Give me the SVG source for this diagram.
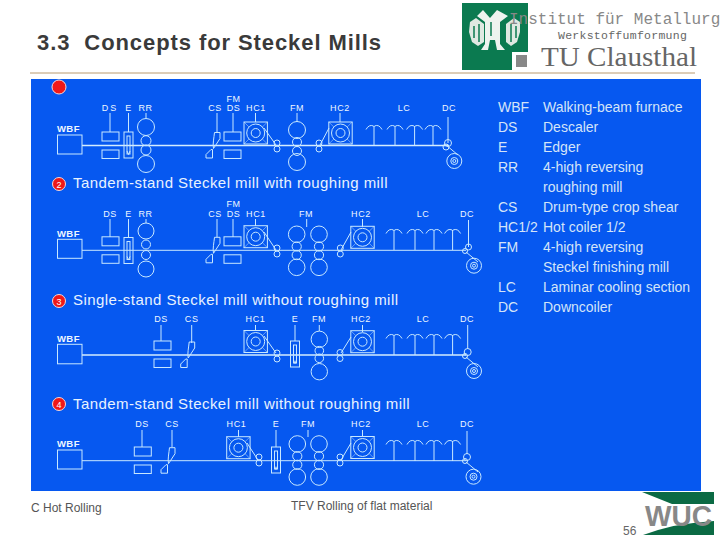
<svg xmlns="http://www.w3.org/2000/svg" width="720" height="540" viewBox="0 0 720 540">
<style>
text{font-family:"Liberation Sans",Arial,sans-serif}
.l{font-size:9px;fill:#eef7ff;text-anchor:middle;letter-spacing:.6px}
.w{font-size:9.500px;fill:#eef7ff;font-weight:bold;letter-spacing:.4px}
.h{font-size:15px;fill:#e8f2ff;letter-spacing:.45px}
.k{font-size:14px;fill:#d4e4f8}
.n{font-size:9px;fill:#fff;text-anchor:middle}
.s{fill:none;stroke:#c8e8ff;stroke-width:1}
.t{fill:none;stroke:#d4ecff;stroke-width:1.400}
.r{fill:#f01818;stroke:#f4d8d8;stroke-width:1}
</style>
<defs>
<g id="hc" class="s"><rect x="-11.700" y="-11" width="23.400" height="22"/><circle r="9"/><circle r="4.500"/><path opacity=".5" d="M-11.700-11l5 5M11.700-11l-5 5M-11.700 11l5-5M11.700 11l-5-5"/></g>
<g id="ds" class="s"><rect x="0" y="-13.500" width="17" height="9"/><rect x="0" y="4.500" width="17" height="8.500"/></g>
<g id="e" class="s"><rect x="-4.500" y="-13" width="9" height="26"/><rect x="-1.500" y="-9" width="3" height="18"/><path d="M-1.500 6L0 9.500L1.500 6"/></g>
<g id="cs" class="s"><path d="M-2.500-13H3V-7L-3.500 3C-4.500-1-3-8-2.500-13Z"/><path d="M-4.500 4V12.500H-11V9L-6 4Z"/></g>
<g id="p" class="s"><circle cy="-3" r="3"/><circle cy="3" r="3"/></g>
<g id="u" class="s"><path d="M-8 3.500Q-5-2-.5 0L0 .5L.5 0Q5-2 8 3.500"/></g>
<g id="co" class="s"><circle r="7.500"/><circle r="3.500"/><circle r="1.500"/></g>
<g id="m" class="s"><circle cy="-16.500" r="8.300"/><circle cy="-4.300" r="4.600"/><circle cy="4.300" r="4.600"/><circle cy="16.500" r="8.300"/></g>
</defs>
<rect width="720" height="540" fill="#fff"/>
<rect x="31" y="79" width="670" height="412" fill="#0658f0"/>
<path d="M30 73H695" stroke="#b89a70" stroke-width="1"/>
<text x="37" y="50" font-size="22" font-weight="bold" fill="#3a3a3a" textLength="344" lengthAdjust="spacing">3.3&#160;&#160;Concepts for Steckel Mills</text>
<g id="logo-tu">
<path d="M462 3H528V52H512V70H462Z" fill="#0b7a50"/>
<rect x="516" y="55" width="11" height="12" fill="#888"/>
<path d="M470 22L476 18L480 21L484 24V42L478 46L472 42L469 32Z" fill="#dfe9e2"/>
<path d="M520 22L514 18L510 21L506 24V42L511 46L517 42L520 32Z" fill="#dfe9e2"/>
<path d="M483 10L490 18L497 10L508 16L500 22V44L505 50H497L495 40H490L488 50H481L485 44V22L477 16Z" fill="#eef3ef"/>
<path d="M474 26V38M479 24V42M511 24V42M516 26V38M491 22V36" stroke="#0b7a50" stroke-width="1.500" fill="none"/>
</g>
<text x="509" y="24" font-size="16" fill="#888" style="font-family:'Liberation Mono',monospace">Institut für Metallurg</text>
<text x="558" y="38.500" font-size="11.500" fill="#666" letter-spacing=".27" style="font-family:'Liberation Mono',monospace">Werkstoffumformung</text>
<text x="541" y="66" font-size="27" fill="#666" textLength="156" lengthAdjust="spacingAndGlyphs" style="font-family:'Liberation Serif',serif">TU Clausthal</text>

<g id="connectors" class="s">
<path class="t" d="M82 145.500H448"/>
<path d="M110 113V132M128.500 113V132M146 113V118M217 113V132M233 113V132M255.500 113V122M297 113V122M340 113V122M448 117V143M264 128L276 145M329 128L320 145M446 145L458 155M374 126V145M395 126V145M414.600 126V145M433 126V145"/>
<path d="M82 250.300H466"/>
<path d="M110 219V237M128.500 219V238M146 219V223M217 219V237M233 219V237M255.500 219V226M306.700 219V227M362.500 219V227M468.500 220V247M264 232L276 250M351 232L341 250M466 252L478 262M394 230V250M415 230V250M434 230V250M452.600 230V250"/>
<path class="t" d="M82 355H466"/>
<path d="M161 325V341M191.700 325V343M255.500 325V331M295 325V341M319.300 325V331M362.500 325V332M467.700 325V349M264 336L276 353M351 337L341 353M466 357L478 367M394 335V355M415 335V355M434 335V355M452.600 335V355"/>
<path d="M82 460.700H466"/>
<path d="M142 430V447M172 430V447M238.500 430V437M276 430V447M308 430V437M362.500 430V437M467 431V454M247 443L258 460M351 443L341 460M466 462L478 472M394 441V461M415 441V461M434 441V461M452.600 441V461"/>
</g>

<g id="legend">
<text class="k" x="498" y="112">WBF</text><text class="k" x="543" y="112">Walking-beam furnace</text>
<text class="k" x="498" y="132">DS</text><text class="k" x="543" y="132">Descaler</text>
<text class="k" x="498" y="152">E</text><text class="k" x="543" y="152">Edger</text>
<text class="k" x="498" y="172">RR</text><text class="k" x="543" y="172">4-high reversing</text>
<text class="k" x="543" y="192">roughing mill</text>
<text class="k" x="498" y="212">CS</text><text class="k" x="543" y="212">Drum-type crop shear</text>
<text class="k" x="498" y="232">HC1/2</text><text class="k" x="543" y="232">Hot coiler 1/2</text>
<text class="k" x="498" y="252">FM</text><text class="k" x="543" y="252">4-high reversing</text>
<text class="k" x="543" y="272">Steckel finishing mill</text>
<text class="k" x="498" y="292">LC</text><text class="k" x="543" y="292">Laminar cooling section</text>
<text class="k" x="498" y="312">DC</text><text class="k" x="543" y="312">Downcoiler</text>
</g>

<g id="line1">
<circle class="r" cx="59" cy="87" r="7"/>
<text class="w" x="57" y="132">WBF</text><rect class="s" x="57.500" y="135" width="24.500" height="19"/>
<text class="l" x="110" y="111" style="letter-spacing:2px">DS</text><text class="l" x="128.500" y="111">E</text><text class="l" x="145.500" y="111">RR</text>
<text class="l" x="215" y="111">CS</text><text class="l" x="233.500" y="102">FM</text><text class="l" x="233.500" y="111">DS</text><text class="l" x="256" y="111">HC1</text>
<text class="l" x="297" y="111">FM</text><text class="l" x="340" y="111">HC2</text><text class="l" x="404" y="111">LC</text><text class="l" x="449" y="111">DC</text>
<use href="#ds" x="102" y="145.500"/><use href="#e" x="128.500" y="145"/>
<g class="s"><circle cx="146" cy="127" r="8.500"/><circle cx="146" cy="140.700" r="5"/><circle cx="146" cy="150" r="5"/><circle cx="146" cy="164" r="8.500"/></g>
<use href="#cs" x="217" y="145.500"/><use href="#ds" x="224" y="145.500"/><use href="#hc" x="255.700" y="133"/><use href="#p" x="277" y="146"/>
<g class="s"><circle cx="297" cy="130" r="8.500"/><circle cx="297" cy="142" r="4.500"/><circle cx="297" cy="151" r="4.500"/><circle cx="297" cy="162" r="8.500"/></g>
<use href="#p" x="319" y="146"/><use href="#hc" x="340.500" y="133"/>
<use href="#u" x="374" y="126"/><use href="#u" x="395" y="126"/><use href="#u" x="414.600" y="126"/><use href="#u" x="433" y="126"/>
<g class="s"><circle cx="448" cy="143" r="3.500"/><circle cx="446" cy="147" r="3"/></g><use href="#co" x="454.300" y="161"/>
<circle class="r" cx="59" cy="184" r="6.500"/><text class="n" x="59" y="187.500">2</text>
<text class="h" x="73" y="188">Tandem-stand Steckel mill with roughing mill</text>
</g>

<g id="line2">
<text class="w" x="57" y="237">WBF</text><rect class="s" x="57.500" y="239.300" width="24.500" height="19"/>
<text class="l" x="110" y="217">DS</text><text class="l" x="128.500" y="217">E</text><text class="l" x="145.500" y="217">RR</text>
<text class="l" x="215" y="217">CS</text><text class="l" x="233.500" y="207">FM</text><text class="l" x="233.500" y="217">DS</text><text class="l" x="256" y="217">HC1</text>
<text class="l" x="306" y="217">FM</text><text class="l" x="361" y="217">HC2</text><text class="l" x="423" y="217">LC</text><text class="l" x="467" y="217">DC</text>
<use href="#ds" x="102" y="250.300"/><use href="#e" x="128.500" y="250.500"/>
<g class="s"><circle cx="146" cy="231" r="8"/><circle cx="146" cy="244.500" r="4.500"/><circle cx="146" cy="255" r="4.500"/><circle cx="146" cy="269" r="8"/></g>
<use href="#cs" x="217" y="250.300"/><use href="#ds" x="224" y="250.300"/><use href="#hc" x="255.700" y="236.700"/><use href="#p" x="277" y="251"/>
<use href="#m" x="296.700" y="250.800"/><use href="#m" x="319" y="250.800"/>
<use href="#p" x="340.300" y="251"/><use href="#hc" x="362.500" y="237.300"/>
<use href="#u" x="394" y="230"/><use href="#u" x="415" y="230"/><use href="#u" x="434" y="230"/><use href="#u" x="452.600" y="230"/>
<g class="s"><circle cx="468.500" cy="247" r="3"/><circle cx="465" cy="251" r="2.500"/></g><use href="#co" x="474" y="265.700"/>
<circle class="r" cx="59" cy="301" r="6.500"/><text class="n" x="59" y="304.500">3</text>
<text class="h" x="73" y="305">Single-stand Steckel mill without roughing mill</text>
</g>

<g id="line3">
<text class="w" x="57" y="342">WBF</text><rect class="s" x="57.500" y="344.300" width="24.500" height="19.500"/>
<text class="l" x="161" y="322">DS</text><text class="l" x="191.700" y="322">CS</text><text class="l" x="255.500" y="322">HC1</text><text class="l" x="295" y="322">E</text><text class="l" x="319" y="322">FM</text><text class="l" x="361" y="322">HC2</text><text class="l" x="423" y="322">LC</text><text class="l" x="467" y="322">DC</text>
<use href="#ds" x="154" y="354.500"/><use href="#cs" x="191.700" y="355"/><use href="#hc" x="255.700" y="341.500"/><use href="#p" x="277" y="356"/><use href="#e" x="295" y="354"/>
<g class="s"><circle cx="319.300" cy="339.300" r="8.200"/><circle cx="319.300" cy="350.700" r="4.300"/><circle cx="319.300" cy="358.300" r="4.300"/><circle cx="319.300" cy="371.700" r="8.200"/></g>
<use href="#p" x="340" y="355.500"/><use href="#hc" x="362.500" y="341.700"/>
<use href="#u" x="394" y="335"/><use href="#u" x="415" y="335"/><use href="#u" x="434" y="335"/><use href="#u" x="452.600" y="335"/>
<g class="s"><circle cx="467.700" cy="352" r="3.500"/><circle cx="465" cy="356" r="2.500"/></g><use href="#co" x="474" y="371"/>
<circle class="r" cx="59" cy="404" r="6.500"/><text class="n" x="59" y="407.500">4</text>
<text class="h" x="73" y="409">Tandem-stand Steckel mill without roughing mill</text>
</g>

<g id="line4">
<text class="w" x="57" y="447">WBF</text><rect class="s" x="57.500" y="450" width="24.500" height="19"/>
<text class="l" x="142" y="427">DS</text><text class="l" x="172" y="427">CS</text><text class="l" x="236.500" y="427">HC1</text><text class="l" x="276" y="427">E</text><text class="l" x="308" y="427">FM</text><text class="l" x="361" y="427">HC2</text><text class="l" x="423" y="427">LC</text><text class="l" x="467" y="427">DC</text>
<use href="#ds" x="134.300" y="460.500"/><use href="#cs" x="172" y="460.700"/><use href="#hc" x="238.400" y="447.700"/><use href="#p" x="259" y="460"/><use href="#e" x="276" y="460"/>
<use href="#m" x="297.300" y="460.500"/><use href="#m" x="319" y="460.500"/>
<use href="#p" x="340" y="460"/><use href="#hc" x="362.500" y="447.500"/>
<use href="#u" x="394" y="441"/><use href="#u" x="415" y="441"/><use href="#u" x="434" y="441"/><use href="#u" x="452.600" y="441"/>
<g class="s"><circle cx="467" cy="457" r="3.500"/><circle cx="465" cy="461" r="2.500"/></g><use href="#co" x="473.500" y="476.700"/>
</g>

<text x="31" y="512" font-size="12" fill="#555">C Hot Rolling</text>
<text x="291" y="510" font-size="12" fill="#555">TFV Rolling of flat material</text>
<text x="623" y="535" font-size="12" fill="#666">56</text>
<g id="logo-wuc">
<path d="M642 492H714V504H672Z" fill="#0b6a44"/>
<path d="M643 535Q675 523 714 521V535Z" fill="#0b6a44"/>
<text x="645" y="526" font-size="29" font-weight="bold" fill="#888" textLength="67" lengthAdjust="spacingAndGlyphs">WUC</text>
</g>
</svg>
